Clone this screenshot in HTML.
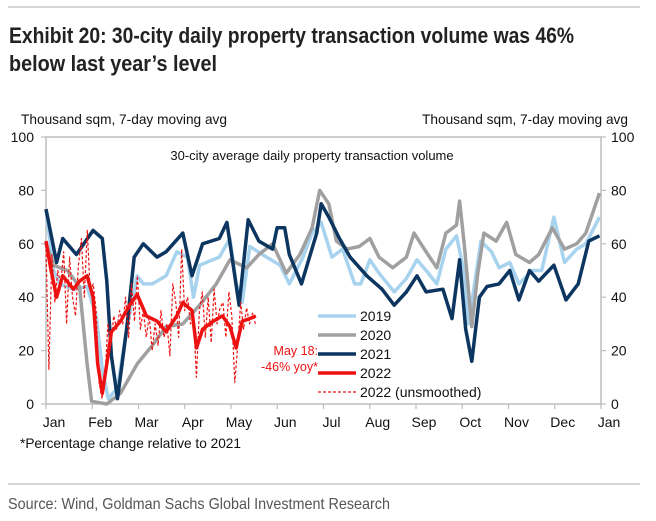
<!DOCTYPE html>
<html><head><meta charset="utf-8"><style>
html,body{margin:0;padding:0;background:#fff;width:656px;height:521px;overflow:hidden}
svg{display:block;font-family:"Liberation Sans",Arial,sans-serif}
</style></head><body>
<svg id="c" width="656" height="521" viewBox="0 0 656 521">
<line x1="8" y1="7" x2="640" y2="7" stroke="#c8c8c8" stroke-width="1.5"/>
<text x="9" y="43" font-size="22" font-weight="bold" fill="#222" textLength="565" lengthAdjust="spacingAndGlyphs">Exhibit 20: 30-city daily property transaction volume was 46%</text>
<text x="9" y="71" font-size="22" font-weight="bold" fill="#222" textLength="208" lengthAdjust="spacingAndGlyphs">below last year’s level</text>
<text x="21" y="124" font-size="14" fill="#111" textLength="206" lengthAdjust="spacingAndGlyphs">Thousand sqm, 7-day moving avg</text>
<text x="422" y="124" font-size="14" fill="#111" textLength="206" lengthAdjust="spacingAndGlyphs">Thousand sqm, 7-day moving avg</text>
<text x="312" y="160" font-size="13" fill="#111" text-anchor="middle">30-city average daily property transaction volume</text>
<g id="axes"></g>
<g id="series"></g>
<g id="legend">
 <line x1="318" y1="316" x2="356" y2="316" stroke="#a8d3ee" stroke-width="3.5"/>
 <text x="360" y="321" font-size="14" fill="#111">2019</text>
 <line x1="318" y1="335" x2="356" y2="335" stroke="#a0a0a0" stroke-width="3.5"/>
 <text x="360" y="340" font-size="14" fill="#111">2020</text>
 <line x1="318" y1="354" x2="356" y2="354" stroke="#0c3560" stroke-width="3.5"/>
 <text x="360" y="359" font-size="14" fill="#111">2021</text>
 <line x1="318" y1="373" x2="356" y2="373" stroke="#ee1111" stroke-width="3.5"/>
 <text x="360" y="378" font-size="14" fill="#111">2022</text>
 <line x1="318" y1="392" x2="356" y2="392" stroke="#ee1111" stroke-width="1.2" stroke-dasharray="3,2"/>
 <text x="360" y="397" font-size="14" fill="#111">2022 (unsmoothed)</text>
</g>
<text x="318" y="355" font-size="12.5" fill="#ee1111" text-anchor="end">May 18:</text>
<text x="318" y="371" font-size="12.5" fill="#ee1111" text-anchor="end">-46% yoy*</text>
<text x="20" y="448" font-size="14" fill="#111" textLength="221" lengthAdjust="spacingAndGlyphs">*Percentage change relative to 2021</text>
<line x1="8" y1="484" x2="640" y2="484" stroke="#c8c8c8" stroke-width="1.5"/>
<text x="8" y="509" font-size="16" fill="#555" textLength="382" lengthAdjust="spacingAndGlyphs">Source: Wind, Goldman Sachs Global Investment Research</text>
</svg>
<script>
const months=["Jan","Feb","Mar","Apr","May","Jun","Jul","Aug","Sep","Oct","Nov","Dec","Jan"];
const yTicks=[0,20,40,60,80,100];
const d2019=[0,5,9,18,27,33,37,41,47,53,60,64,70,79,86,93,97,101,114,121,125,129,134,145,154,160,169,175,181,188,195,203,207,213,219,229,237,244,250,257,263,270,274,278,286,293,298,305,311,320,326,334,341,349,355,364];
const v2019=[73,50,45,43,44,33,13,2,6,28,48,45,45,48,57,55,40,52,55,62,45,38,59,55,52,45,55,64,68,55,58,45,45,54,49,42,47,54,50,45,58,63,52,30,61,57,51,53,45,50,50,70,53,58,60,70];
const d2020=[0,5,14,22,27,30,40,49,60,70,79,90,101,112,121,132,140,149,158,167,175,180,186,191,198,206,213,219,228,237,242,250,257,263,270,272,275,280,284,288,296,303,309,318,324,333,341,349,355,364];
const v2020=[60,52,50,44,15,1,0,4,15,22,29,30,37,45,54,51,56,60,49,56,66,80,75,61,58,59,62,55,51,55,64,57,51,64,67,76,60,29,49,64,61,68,56,53,56,66,58,60,64,79];
const d2021=[0,7,11,20,31,37,40,43,47,53,58,64,73,79,90,96,103,114,119,127,133,140,149,152,157,160,168,178,181,186,193,200,211,221,229,237,244,250,261,267,272,276,280,285,290,298,305,311,318,324,334,342,350,357,364];
const v2021=[73,53,62,56,65,62,46,18,2,28,55,60,55,57,64,48,60,62,68,37,69,61,58,66,66,56,45,64,75,70,62,55,48,43,37,42,48,42,43,32,54,28,16,40,44,45,50,39,50,46,52,39,45,61,63];
const d2022=[0,3,7,11,18,22,27,31,34,37,40,43,49,55,60,66,73,79,86,90,96,99,103,110,116,121,125,129,134,138];
const v2022=[61,51,40,48,43,46,48,40,15,4,15,27,31,37,41,33,31,27,33,38,35,21,28,31,33,29,21,31,32,33];
const raw2022=[58,13,56,38,50,45,57,30,55,40,33,52,62,40,65,42,45,35,8,2,10,30,22,33,28,35,30,40,25,45,31,48,28,35,25,33,20,30,22,35,25,30,18,45,38,25,58,35,40,30,33,10,35,42,25,40,23,43,30,36,38,25,42,33,8,22,38,28,36,30,34,30];
const rawStepDays=1.94;

const NS="http://www.w3.org/2000/svg";
const X0=46,X1=601,Y0=404,Y1=137;
function xs(day){return X0+(X1-X0)*day/365;}
function ys(v){return Y0-(Y0-Y1)*v/100;}
function mk(tag,attrs,parent){const e=document.createElementNS(NS,tag);for(const k in attrs)e.setAttribute(k,attrs[k]);parent.appendChild(e);return e;}
const ax=document.getElementById("axes"),sg=document.getElementById("series");
let f=mk("path",{d:`M${X0},${Y0}V${Y1}H${X1}V${Y0}`,fill:"none",stroke:"#bdbdbd","stroke-width":1.5},ax);


let xa=mk("line",{x1:X0,y1:Y0,x2:X1,y2:Y0,stroke:"#bdbdbd","stroke-width":1.5},ax);


months.forEach((m,i)=>{
  const x=xs(i*365/12);
  const t=mk("line",{x1:x,y1:Y0,x2:x,y2:Y0+5,stroke:"#bdbdbd","stroke-width":1.2},ax);
  
  
  const l=mk("text",{x:x+8,y:Y0+23,"font-size":14,"text-anchor":"middle",fill:"#111"},ax);
  l.textContent=m;
  
  
});
yTicks.forEach(v=>{
  const y=ys(v);
  const t1=mk("line",{x1:X0-5,y1:y,x2:X0,y2:y,stroke:"#bdbdbd","stroke-width":1.2},ax);
  
  
  const t2=mk("line",{x1:X1,y1:y,x2:X1+5,y2:y,stroke:"#bdbdbd","stroke-width":1.2},ax);
  
  
  const l1=mk("text",{x:X0-12,y:y+5,"font-size":14,"text-anchor":"end",fill:"#111"},ax);
  l1.textContent=v;
  
  
  const l2=mk("text",{x:X1+10,y:y+5,"font-size":14,"text-anchor":"start",fill:"#111"},ax);
  l2.textContent=v;
  
  
});
function line(days,vals,color,w,name,dash){
  const d=days.map((dy,i)=>(i?"L":"M")+xs(dy).toFixed(1)+","+ys(vals[i]).toFixed(1)).join("");
  const p=mk("path",{d:d,fill:"none",stroke:color,"stroke-width":w,"stroke-linejoin":"round"},sg);
  if(dash)p.setAttribute("stroke-dasharray",dash);
  
  
}
line(d2019,v2019,"#a8d3ee",3.5,"series-2019");
line(d2020,v2020,"#a0a0a0",3.5,"series-2020");
line(d2021,v2021,"#0c3560",3.5,"series-2021");
line(raw2022.map((v,i)=>i*rawStepDays),raw2022,"#ee1111",1.2,"series-2022-unsmoothed","3,2");
line(d2022,v2022,"#ee1111",3.5,"series-2022");
</script>
</body></html>
